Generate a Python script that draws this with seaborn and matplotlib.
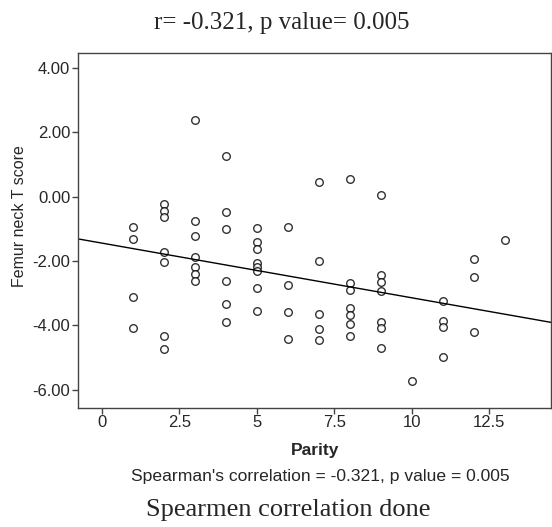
import numpy as np
import pandas as pd
import matplotlib
matplotlib.use('Agg')
import matplotlib.pyplot as plt
import seaborn as sns
from matplotlib.ticker import FormatStrFormatter

# Parity values and femur neck T scores
parity = [1, 1, 1, 1,
          2, 2, 2, 2, 2, 2, 2,
          3, 3, 3, 3, 3, 3, 3,
          4, 4, 4, 4, 4, 4,
          5, 5, 5, 5, 5, 5, 5, 5,
          6, 6, 6, 6,
          7, 7, 7, 7, 7,
          8, 8, 8, 8, 8, 8, 8,
          9, 9, 9, 9, 9, 9, 9,
          10,
          11, 11, 11, 11,
          12, 12, 12,
          13]
t_score = [-0.93, -1.32, -3.11, -4.09,
           -0.22, -0.43, -0.64, -1.71, -2.03, -4.32, -4.74,
           2.38, -0.75, -1.22, -1.86, -2.17, -2.39, -2.61,
           1.28, -0.47, -1.01, -2.62, -3.33, -3.90,
           -0.98, -1.42, -1.62, -2.05, -2.17, -2.30, -2.84, -3.55,
           -0.94, -2.75, -3.59, -4.43,
           0.45, -2.01, -3.64, -4.12, -4.45,
           0.56, -2.67, -2.91, -3.47, -3.69, -3.96, -4.32,
           0.06, -2.43, -2.65, -2.93, -3.88, -4.08, -4.70,
           -5.72,
           -3.23, -3.86, -4.04, -4.98,
           -1.94, -2.50, -4.22,
           -1.36]

x_ticks = [0, 2.5, 5, 7.5, 10, 12.5]
x_labels = ['0', '2.5', '5', '7.5', '10', '12.5']
y_ticks = [4, 2, 0, -2, -4, -6]

df = pd.DataFrame({'Parity': parity, 'Femur neck T score': t_score})

sns.set_style('white')
plt.rcParams['font.family'] = ['Liberation Sans', 'DejaVu Sans']

fig = plt.figure(figsize=(5.52, 5.27), dpi=100)
ax = fig.add_axes([0.1413, 0.2264, 0.857, 0.673])
ax.set_xlim(-0.77, 14.5)
ax.set_ylim(-6.56, 4.47)

sns.regplot(data=df, x='Parity', y='Femur neck T score', ax=ax, ci=None,
            truncate=False,
            scatter_kws=dict(s=30, facecolors='white', edgecolors='black', linewidths=1.0),
            line_kws=dict(color='black', linewidth=1.0))

ax.set_xticks(x_ticks)
ax.set_xticklabels(x_labels)
ax.set_yticks(y_ticks)
ax.yaxis.set_major_formatter(FormatStrFormatter('%.2f'))
ax.tick_params(axis='both', which='major', direction='out', length=4, width=1,
               color='#444444', labelsize=12, pad=1.5, left=True, bottom=True)
for s in ax.spines.values():
    s.set_color('#444444')
    s.set_linewidth(1.0)

ax.set_xlabel('Parity', fontsize=12.5, fontweight='bold')
ax.set_ylabel('Femur neck T score', fontsize=11.5)
# label placement in figure pixels
ax.xaxis.set_label_coords(315.5 / 552, 1 - 450 / 527, transform=fig.transFigure)
ax.xaxis.label.set_va('center')
ax.yaxis.set_label_coords(20 / 552, 1 - 216 / 527, transform=fig.transFigure)
ax.yaxis.label.set_va('center')

fig.text(282 / 552, 1 - 23 / 527, 'r= -0.321, p value= 0.005', ha='center', va='center',
         family='Liberation Serif', fontsize=18)
fig.text(320 / 552, 1 - 476 / 527, "Spearman's correlation = -0.321, p value = 0.005",
         ha='center', va='center', fontsize=12.6)
fig.text(288 / 552, 1 - 510 / 527, 'Spearmen correlation done', ha='center', va='center',
         family='Liberation Serif', fontsize=19)

fig.savefig('out.png', dpi=100)
